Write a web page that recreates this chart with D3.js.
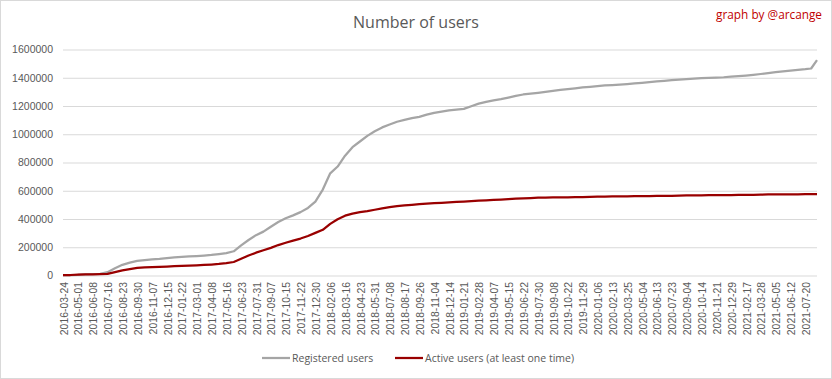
<!DOCTYPE html>
<html>
<head>
<meta charset="utf-8">
<script src="https://cdn.jsdelivr.net/npm/d3@7"></script>
<style>
  body { margin: 0; background: #fff; }
  svg { display: block; font-family: "Open Sans", sans-serif; }
</style>
</head>
<body>
<svg class="chart" width="832" height="379"></svg>
<script>
// Static data
// x axis: one category per row of the sheet, every 38th category gets a label
const tickLabels = [
  '2016-03-24', '2016-05-01', '2016-06-08', '2016-07-16', '2016-08-23', '2016-09-30',
  '2016-11-07', '2016-12-15', '2017-01-22', '2017-03-01', '2017-04-08', '2017-05-16',
  '2017-06-23', '2017-07-31', '2017-09-07', '2017-10-15', '2017-11-22', '2017-12-30',
  '2018-02-06', '2018-03-16', '2018-04-23', '2018-05-31', '2018-07-08', '2018-08-17',
  '2018-09-26', '2018-11-04', '2018-12-14', '2019-01-21', '2019-02-28', '2019-04-07',
  '2019-05-15', '2019-06-22', '2019-07-30', '2019-09-08', '2019-10-22', '2019-11-29',
  '2020-01-06', '2020-02-13', '2020-03-25', '2020-05-04', '2020-06-13', '2020-07-23',
  '2020-09-04', '2020-10-14', '2020-11-21', '2020-12-29', '2021-02-17', '2021-03-28',
  '2021-05-05', '2021-06-12', '2021-07-20'
];
const tickStep = 38;
const lastCategory = 1930;

// category index of each reading (every half label step, then the last days)
const sampleIdx = [
  0, 19, 38, 57, 76, 95, 114, 133, 152, 171, 190, 209, 228, 247, 266, 285, 304, 323, 342, 361,
  380, 399, 418, 437, 456, 475, 494, 513, 532, 551, 570, 589, 608, 627, 646, 665, 684, 703, 722, 741,
  760, 779, 798, 817, 836, 855, 874, 893, 912, 931, 950, 969, 988, 1007, 1026, 1045, 1064, 1083, 1102, 1121,
  1140, 1159, 1178, 1197, 1216, 1235, 1254, 1273, 1292, 1311, 1330, 1349, 1368, 1387, 1406, 1425, 1444, 1463, 1482, 1501,
  1520, 1539, 1558, 1577, 1596, 1615, 1634, 1653, 1672, 1691, 1710, 1729, 1748, 1767, 1786, 1805, 1824, 1843, 1862, 1881,
  1900, 1915, 1930
];

const registered = [
  0, 0, 1000, 5000, 6000, 8000, 20000, 48000, 72000, 88000, 100000, 106000, 110000, 114000, 120000, 125000, 128000, 131000, 134000, 138000,
  142000, 148000, 155000, 168000, 210000, 248000, 282000, 307000, 342000, 375000, 402000, 422000, 445000, 475000, 520000, 605000, 720000, 768000, 845000, 905000,
  945000, 985000, 1018000, 1045000, 1065000, 1085000, 1098000, 1110000, 1120000, 1135000, 1148000, 1157000, 1165000, 1170000, 1176000, 1195000, 1213000, 1225000, 1236000, 1245000,
  1256000, 1268000, 1278000, 1284000, 1290000, 1297000, 1303000, 1310000, 1316000, 1322000, 1328000, 1332000, 1337000, 1342000, 1345000, 1348000, 1352000, 1357000, 1361000, 1366000,
  1371000, 1375000, 1379000, 1383000, 1387000, 1390000, 1393000, 1396000, 1398000, 1400000, 1404000, 1408000, 1412000, 1417000, 1423000, 1429000, 1436000, 1442000, 1447000, 1452000,
  1457000, 1462000, 1522000
];

const active = [
  0, 0, 2000, 5000, 5000, 6000, 8000, 20000, 33000, 42000, 50000, 54000, 56000, 58000, 60000, 62000, 65000, 67000, 69000, 71000,
  74000, 78000, 84000, 92000, 115000, 138000, 158000, 175000, 192000, 212000, 228000, 243000, 258000, 276000, 298000, 320000, 362000, 395000, 420000, 435000,
  445000, 452000, 462000, 472000, 480000, 488000, 493000, 497000, 501000, 505000, 508000, 511000, 514000, 517000, 520000, 523000, 526000, 529000, 531000, 534000,
  537000, 540000, 543000, 545000, 547000, 548000, 549000, 550000, 550000, 551000, 552000, 553000, 554000, 555000, 556000, 557000, 557000, 558000, 558000, 559000,
  560000, 560000, 561000, 562000, 563000, 564000, 564000, 565000, 565000, 566000, 566000, 567000, 567000, 568000, 569000, 570000, 570000, 571000, 571000, 571000,
  572000, 572000, 572000
];

const seriesNames = ['Registered users', 'Active users (at least one time)'];
const yTicks = [0, 200000, 400000, 600000, 800000, 1000000, 1200000, 1400000, 1600000];

// plot area
const margin = { top: 49, right: 15, bottom: 104, left: 63 };
const width = 832, height = 379;
const w = width - margin.left - margin.right;
const h = height - margin.top - margin.bottom;

const svg = d3.select('.chart');

// chart border
svg.append('rect')
   .attr('x', 0.5).attr('y', 0.5)
   .attr('width', width - 1).attr('height', height - 1)
   .attr('fill', '#fff')
   .attr('stroke', '#d9d9d9');

const x = d3.scaleLinear().domain([0, lastCategory]).range([margin.left, margin.left + w]);
const y = d3.scaleLinear().domain([0, 1600000]).range([margin.top + h, margin.top]);

// gridlines + y labels
const yAxis = d3.axisLeft(y)
  .tickValues(yTicks)
  .tickSize(-w)
  .tickPadding(10)
  .tickFormat(d3.format('d'));

svg.append('g')
   .attr('class', 'y-axis')
   .attr('transform', `translate(${margin.left}, 0.5)`)
   .call(yAxis)
   .call(g => g.select('.domain').remove())
   .call(g => g.selectAll('line').attr('stroke', '#d9d9d9'))
   .call(g => g.selectAll('text')
     .attr('fill', '#595959')
     .style('font-size', '10.5px'));

// x labels, one per 38 categories
const xAxis = d3.axisBottom(x)
  .tickValues(tickLabels.map((d, i) => i * tickStep))
  .tickSize(0)
  .tickFormat((d, i) => tickLabels[i]);

svg.append('g')
   .attr('class', 'x-axis')
   .attr('transform', `translate(0.5, ${margin.top + h})`)
   .call(xAxis)
   .call(g => g.select('.domain').remove())
   .call(g => g.selectAll('text')
     .attr('fill', '#595959')
     .style('font-size', '10.4px')
     .attr('text-anchor', 'end')
     .attr('transform', 'rotate(-90)')
     .attr('x', -7)
     .attr('y', 0)
     .attr('dy', '0.35em'));

// lines
const line = vals => d3.line()
  .x((d, i) => x(sampleIdx[i]))
  .y(d => y(d))(vals);

svg.append('path')
   .attr('d', line(registered))
   .attr('fill', 'none')
   .attr('stroke', '#a5a5a5')
   .attr('stroke-width', 2.25)
   .attr('stroke-linejoin', 'round');

svg.append('path')
   .attr('d', line(active))
   .attr('fill', 'none')
   .attr('stroke', '#990000')
   .attr('stroke-width', 2.25)
   .attr('stroke-linejoin', 'round');

// title
svg.append('text')
   .attr('x', 416)
   .attr('y', 28)
   .attr('text-anchor', 'middle')
   .attr('fill', '#595959')
   .style('font-size', '16px')
   .text('Number of users');

svg.append('text')
   .attr('x', 822)
   .attr('y', 19)
   .attr('text-anchor', 'end')
   .attr('fill', '#c00000')
   .style('font-size', '11.8px')
   .text('graph by @arcange');

// legend
const legend = svg.append('g')
  .attr('class', 'legend')
  .attr('transform', 'translate(262, 358)');

const legendX = [0, 133];
const legendColors = ['#a5a5a5', '#990000'];

seriesNames.forEach((name, i) => {
  const item = legend.append('g').attr('transform', `translate(${legendX[i]}, 0)`);
  item.append('line')
      .attr('x1', 0).attr('x2', 28)
      .attr('y1', 0).attr('y2', 0)
      .attr('stroke', legendColors[i])
      .attr('stroke-width', 2.25);
  item.append('text')
      .attr('x', 30)
      .attr('y', 0)
      .attr('dy', '0.35em')
      .attr('fill', '#595959')
      .style('font-size', '10.5px')
      .text(name);
});
</script>
</body>
</html>
